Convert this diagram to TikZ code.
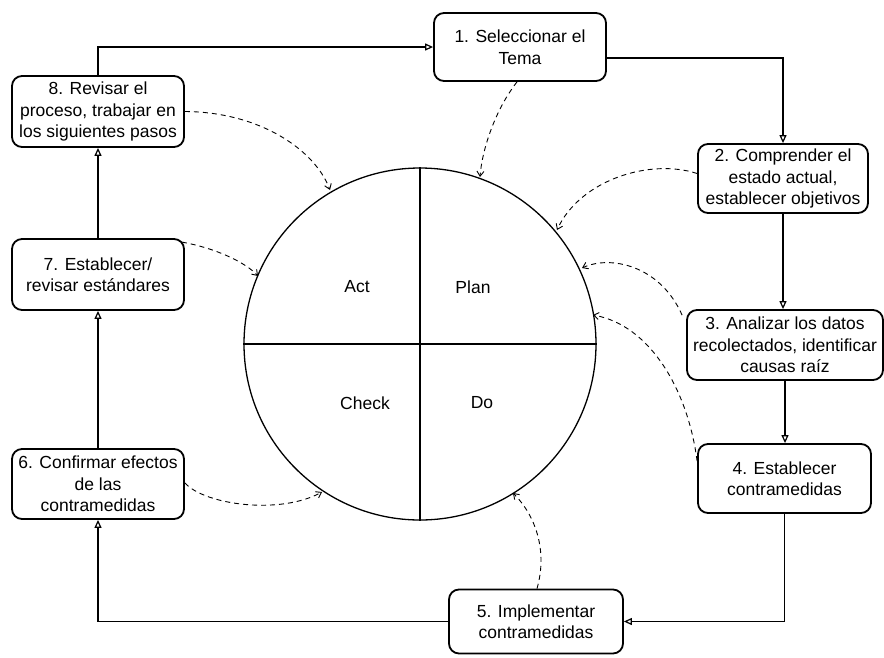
\documentclass[tikz,border=0pt]{standalone}
\usepackage{fontspec}
\setmainfont{Liberation Sans}
\usetikzlibrary{arrows.meta,calc}
\begin{document}
\begin{tikzpicture}[x=1pt,y=-1pt,
  box/.style={draw,line width=1.8pt,rounded corners=10pt,inner sep=0pt,align=center,font=\fontsize{17.5}{21.5}\selectfont},
  flow/.style={line width=1.3pt,-{Triangle[open,length=8pt,width=7pt,line width=1.2pt]}},
  dasharrow/.style={line width=0.9pt,dash pattern=on 5pt off 4pt,-{Straight Barb[length=5pt,width=7pt,line width=0.9pt]}},
  lbl/.style={font=\fontsize{17.5}{21.5}\selectfont}]
\useasboundingbox (0,0) rectangle (884,657);
\node[box,minimum width=172pt,minimum height=68pt] (b1) at (520,47) {1. Seleccionar el\\Tema};
\node[box,minimum width=170pt,minimum height=69pt] (b2) at (783,178.5) {2. Comprender el\\estado actual,\\establecer objetivos};
\node[box,minimum width=196pt,minimum height=70pt] (b3) at (785,345) {3. Analizar los datos\\recolectados, identificar\\causas raíz};
\node[box,minimum width=173pt,minimum height=69pt] (b4) at (784.5,478.5) {4. Establecer\\contramedidas};
\node[box,minimum width=174pt,minimum height=64pt] (b5) at (536,621.5) {5. Implementar\\contramedidas};
\node[box,minimum width=172pt,minimum height=70pt] (b6) at (98,484) {6. Confirmar efectos\\de las\\contramedidas};
\node[box,minimum width=172pt,minimum height=71pt] (b7) at (98,274.5) {7. Establecer/\\revisar estándares};
\node[box,minimum width=172pt,minimum height=71pt] (b8) at (98,111.5) {8. Revisar el\\proceso, trabajar en\\los siguientes pasos};
\node[draw,circle,line width=1.3pt,minimum size=352pt,inner sep=0pt] (c) at (420,344) {};
\draw[line width=1.3pt] (c.north) -- (c.south);
\draw[line width=1.3pt] (c.west) -- (c.east);
\node[lbl] (act) at (357,287) {Act};
\node[lbl] (plan) at (473,287) {Plan};
\node[lbl] (check) at (365,403) {Check};
\node[lbl] (do) at (482,403) {Do};
% flow
\draw[flow] (b8.north) |- (b1.west);
\draw[flow] ($(b1.east)+(0,11)$) -| (b2.north);
\draw[flow] (b2.south) -- (b2.south |- b3.north);
\draw[flow] (b3.south) -- (b3.south |- b4.north);
\draw[flow] (b4.south) |- (b5.east);
\draw[flow] (b5.west) -| (b6.south);
\draw[flow] (b6.north) -- (b7.south);
\draw[flow] (b7.north) -- (b8.south);
% dashed
\coordinate (p1) at (330,190);
\coordinate (p2) at (258,276);
\coordinate (p3) at (480,177);
\coordinate (p4) at (557,230);
\coordinate (p5) at (582,268);
\coordinate (p6) at (593,315);
\coordinate (p7) at (513,493);
\coordinate (p8) at (322,492);
\draw[dasharrow] (b8.east) .. controls (260,112) and (315,150) .. (p1);
\draw[dasharrow] ($(b7.north east)+(-3,4)$) .. controls (215,248) and (245,262) .. (p2);
\draw[dasharrow] ($(b1.south)+(-3,0)$) .. controls (495,110) and (482,150) .. (p3);
\draw[dasharrow] ($(b2.west)+(0,-5)$) .. controls (650,158) and (580,180) .. (p4);
\draw[dasharrow] ($(b3.north west)+(-4,6)$) .. controls (660,265) and (610,255) .. (p5);
\draw[dasharrow] ($(b4.north west)+(0,18)$) .. controls (688,390) and (650,325) .. (p6);
\draw[dasharrow] ($(b5.north)+(1,0)$) .. controls (548,550) and (535,515) .. (p7);
\draw[dasharrow] ($(b6.east)+(0,-1)$) .. controls (205,505) and (280,515) .. (p8);
\end{tikzpicture}
\end{document}
